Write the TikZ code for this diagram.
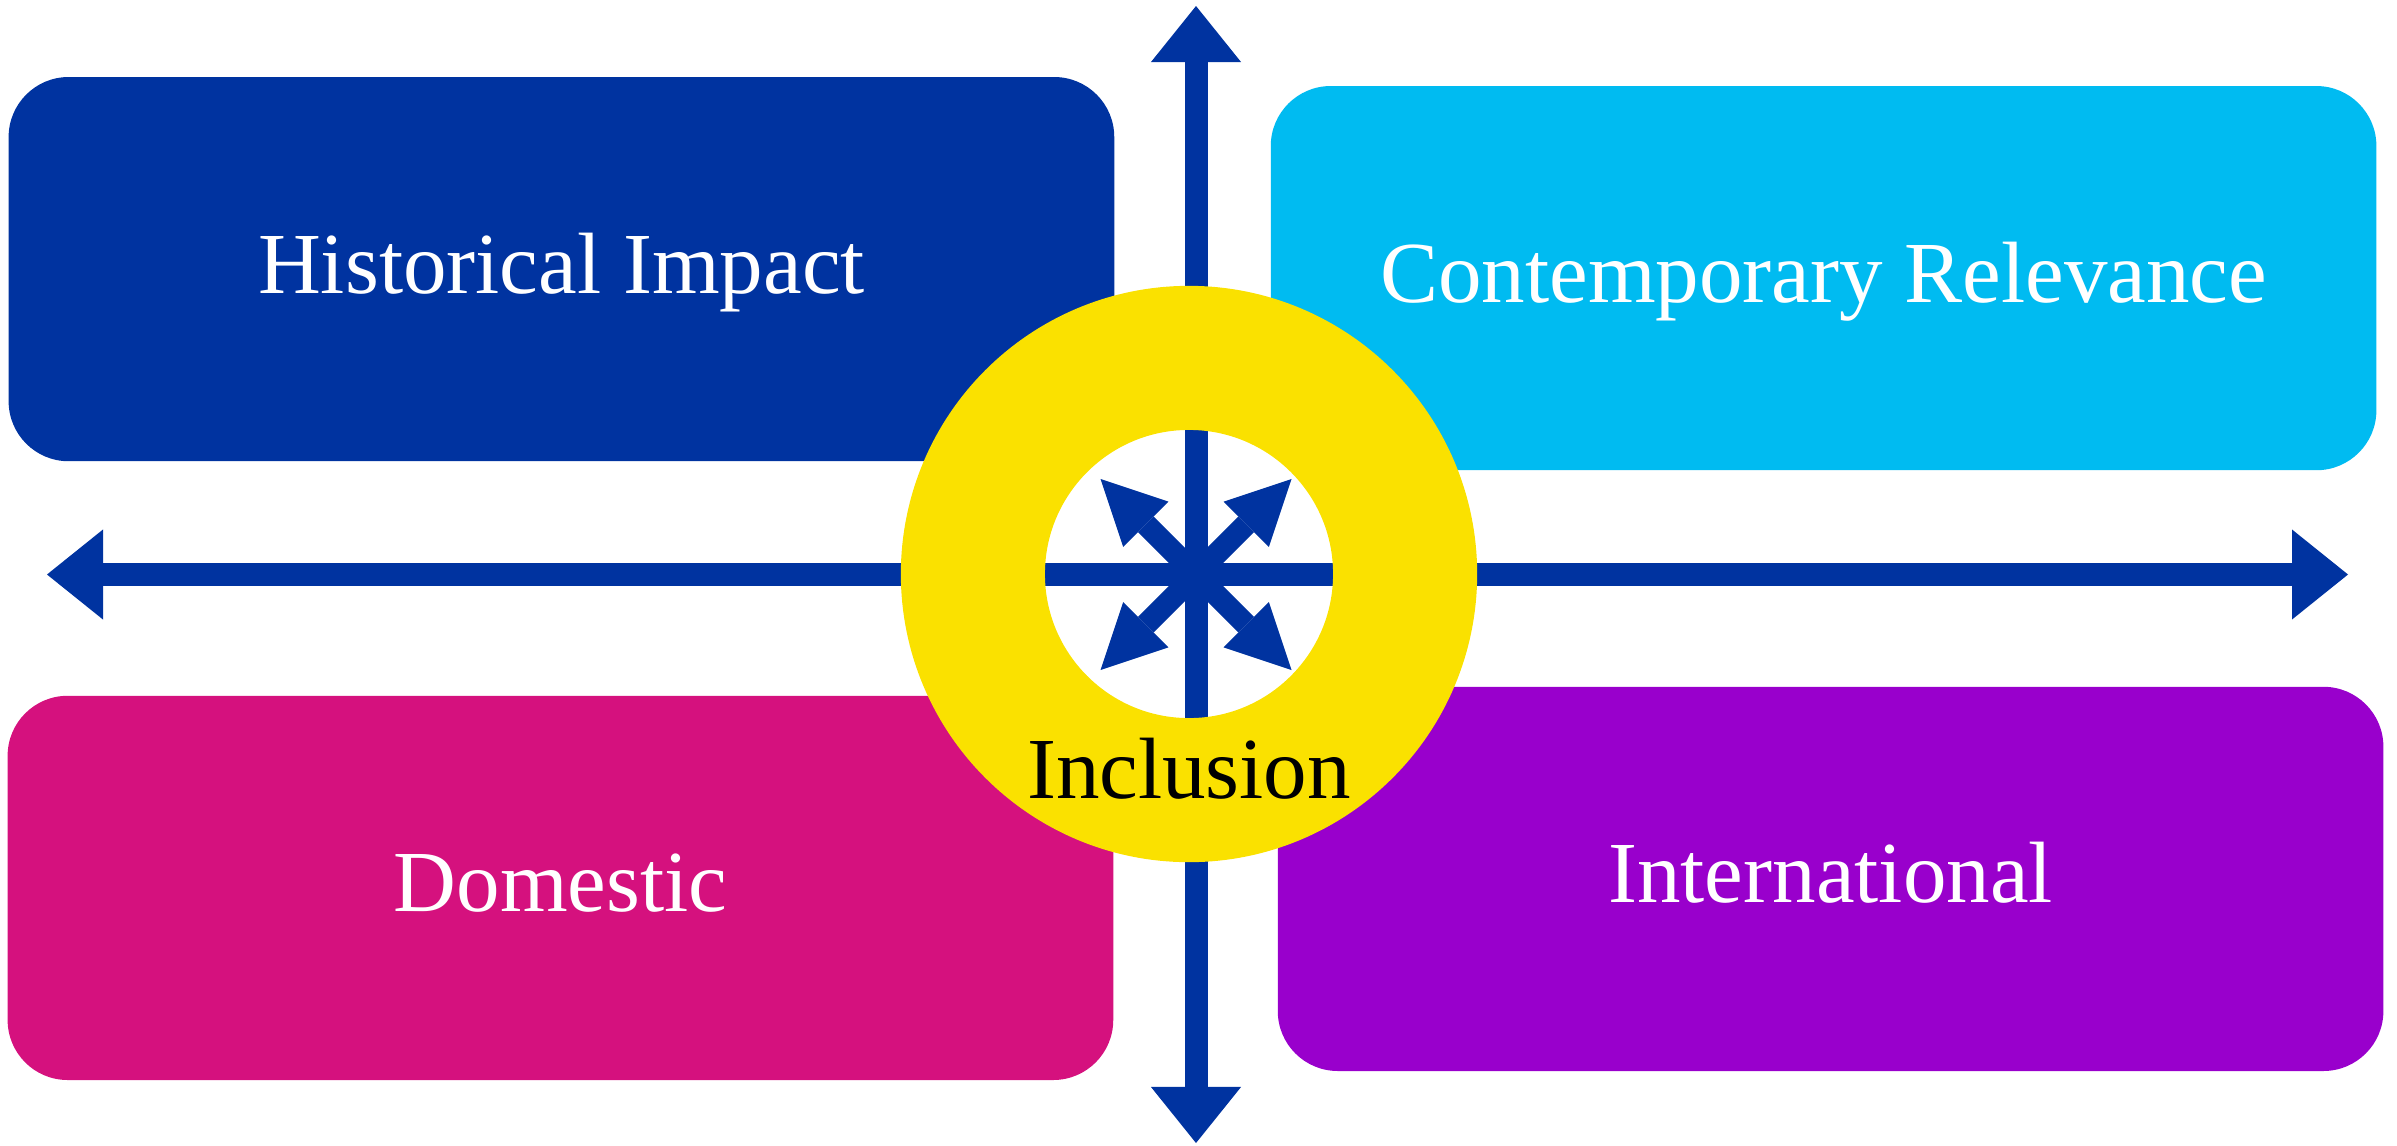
\documentclass[tikz,border=0pt]{standalone}
\usepackage{fontspec}
\setmainfont{Liberation Serif}
\usetikzlibrary{arrows.meta,positioning}
\definecolor{histblue}{HTML}{0033A0}
\definecolor{nowcyan}{HTML}{00BBF1}
\definecolor{homemagenta}{HTML}{D5117E}
\definecolor{worldpurple}{HTML}{9900CC}
\definecolor{ringyellow}{HTML}{FAE100}
\tikzstyle{quadrant}=[
	rectangle,
	rounded corners=0.6cm,
	minimum width=11.05cm,
	minimum height=3.84cm,
	text=white,
	text height=0.65cm,
	text depth=0.17cm,
	font=\fontsize{24.75}{30}\selectfont
]
\tikzstyle{hubtext}=[
	text=black,
	inner sep=0pt,
	font=\fontsize{24.75}{30}\selectfont
]
\tikzstyle{ring}=[
	circle,
	draw=ringyellow,
	line width=1.44cm,
	minimum size=4.32cm,
	inner sep=0pt
]
\tikzstyle{axis}=[
	<->,
	>={Triangle[length=0.56cm,width=0.9cm,line width=0pt]},
	line width=0.23cm,
	draw=histblue,
	fill=histblue
]
\tikzstyle{spoke}=[
	->,
	>={Triangle[length=0.64cm,width=0.64cm,line width=0pt]},
	line width=0.22cm,
	draw=histblue,
	fill=histblue
]

\begin{document}
\begin{tikzpicture}[x=0.01cm, y=-0.01cm]
\useasboundingbox (0,0) rectangle (2397,1145);
\coordinate (hub) at (1196,574.5);
% the four quadrants
\node [quadrant, fill=histblue] (history) [above left=1.125cm and 0.81cm of hub] {Historical Impact};
\node [quadrant, fill=nowcyan] (present) [above right=1.035cm and 0.74cm of hub] {Contemporary Relevance};
\node [quadrant, fill=homemagenta] (domestic) [below left=1.205cm and 0.82cm of hub] {Domestic};
\node [quadrant, fill=worldpurple] (world) [below right=1.115cm and 0.81cm of hub] {International};
% axes
\coordinate (north) at (1196,6);
\coordinate (south) at (1196,1143);
\coordinate (west) at (47,574.5);
\coordinate (east) at (2348,574.5);
\draw [axis] (west) -- (east);
\draw [axis] (north) -- (south);
\foreach \tip/\ang in {ne/45,nw/135,sw/225,se/315}
	\draw [spoke] (hub) -- ++(\ang:1.35cm) coordinate (\tip);
% centre
\node [ring] (ring) at (1189,574) {};
\node [hubtext] (inclusion) [anchor=base] at ([yshift=-2.246cm]ring.center) {Inclusion};
\end{tikzpicture}
\end{document}
